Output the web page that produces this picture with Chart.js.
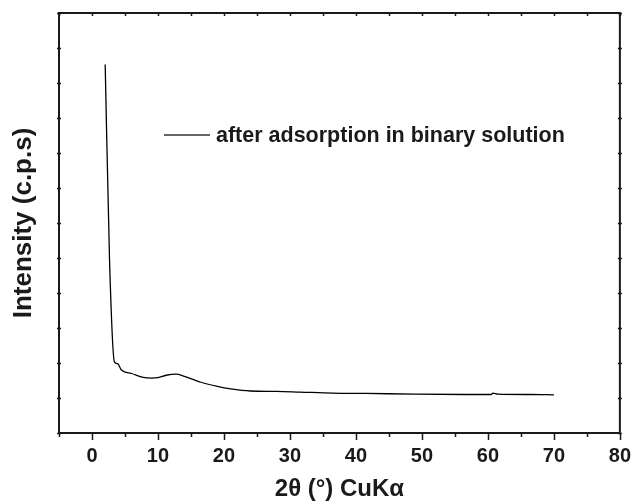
<!DOCTYPE html>
<html lang="en">
<head>
    <meta charset="UTF-8">
    <title>XRD pattern</title>
    <script src="https://cdn.jsdelivr.net/npm/chart.js"></script>
    <style>
        body {
            margin: 0;
            background: #ffffff;
        }
    </style>
</head>
<body>
    <canvas id="xrd" width="642" height="503"></canvas>

    <script>
        // 2 theta (degrees) and intensity (arbitrary units)
        const twoTheta = [2, 2.66, 3.4, 3.86, 4.5, 6, 7.75, 9, 10, 11.25, 12.75, 14, 15.2, 16.5, 19, 21, 24, 28, 31.5, 36.5, 41.5, 49, 56.5, 60.5, 60.75, 61.5, 66.5, 70];
        const intensity = [10.53, 4.93, 2.03, 1.98, 1.79, 1.70, 1.59, 1.57, 1.58, 1.65, 1.68, 1.62, 1.54, 1.45, 1.33, 1.26, 1.20, 1.19, 1.17, 1.14, 1.13, 1.11, 1.10, 1.10, 1.14, 1.11, 1.10, 1.09];
        const seriesName = 'after adsorption in binary solution';
        const xTitle = '2\u03B8 (\u00B0) CuK\u03B1';
        const yTitle = 'Intensity (c.p.s)';

        const ink = '#1a1a1a';
        const family = '"Liberation Sans", Arial, sans-serif';

        // frame box + tick marks on all four sides
        const frame = {
            id: 'frame',
            afterDatasetsDraw(chart) {
                const ctx = chart.ctx;
                const { left, right, top, bottom } = chart.chartArea;
                const x = chart.scales.x, y = chart.scales.y;
                ctx.save();
                ctx.strokeStyle = ink;
                ctx.lineWidth = 2;
                ctx.strokeRect(left, top, right - left, bottom - top);
                ctx.lineWidth = 1.5;
                ctx.beginPath();
                x.ticks.forEach(t => {
                    const px = Math.round(x.getPixelForValue(t.value)) + 0.5;
                    const len = t.value % 10 === 0 ? 7 : 4;
                    ctx.moveTo(px, bottom);
                    ctx.lineTo(px, bottom + len);
                    ctx.moveTo(px, top);
                    ctx.lineTo(px, top + 3);
                });
                y.ticks.forEach(t => {
                    const py = Math.round(y.getPixelForValue(t.value)) + 0.5;
                    ctx.moveTo(left - 2, py);
                    ctx.lineTo(left + 2, py);
                    ctx.moveTo(right - 2, py);
                    ctx.lineTo(right + 2, py);
                });
                ctx.stroke();
                ctx.restore();
            }
        };

        // legend entry drawn inside the plot
        const legendInside = {
            id: 'legendInside',
            afterDraw(chart) {
                const ctx = chart.ctx;
                const ds = chart.data.datasets[0];
                ctx.save();
                ctx.strokeStyle = '#333';
                ctx.lineWidth = 1.3;
                ctx.beginPath();
                ctx.moveTo(164, 135);
                ctx.lineTo(210, 135);
                ctx.stroke();
                ctx.fillStyle = ink;
                ctx.font = 'bold 21.5px ' + family;
                ctx.textBaseline = 'middle';
                ctx.fillText(ds.label, 216, 136);
                ctx.restore();
            }
        };

        new Chart(document.getElementById('xrd'), {
            type: 'line',
            data: {
                datasets: [{
                    label: seriesName,
                    data: twoTheta.map((v, i) => ({ x: v, y: intensity[i] })),
                    borderColor: '#000',
                    borderWidth: 1.3,
                    pointRadius: 0,
                    cubicInterpolationMode: 'monotone',
                    fill: false
                }]
            },
            options: {
                responsive: false,
                animation: false,
                layout: {
                    padding: { top: 13, right: 15, left: 0, bottom: 0 }
                },
                plugins: {
                    legend: { display: false },
                    tooltip: { enabled: false }
                },
                scales: {
                    x: {
                        type: 'linear',
                        min: -5,
                        max: 80,
                        grid: { display: false, drawTicks: false },
                        border: { display: false },
                        ticks: {
                            stepSize: 5,
                            autoSkip: false,
                            maxRotation: 0,
                            padding: 11,
                            color: ink,
                            font: { family: family, size: 20, weight: 'bold' },
                            callback: v => (v % 10 === 0 ? v : '')
                        },
                        title: {
                            display: true,
                            text: xTitle,
                            color: ink,
                            font: { family: family, size: 24, weight: 'bold', lineHeight: 1.1 },
                            padding: { top: 0, bottom: 0 }
                        },
                        afterFit(scale) { scale.height = 70; }
                    },
                    y: {
                        type: 'linear',
                        min: 0,
                        max: 12,
                        grid: { display: false, drawTicks: false },
                        border: { display: false },
                        ticks: { display: false, stepSize: 1 },
                        title: {
                            display: true,
                            text: yTitle,
                            color: ink,
                            font: { family: family, size: 26, weight: 'bold' },
                            padding: { top: 8, bottom: 0 }
                        },
                        afterFit(scale) { scale.width = 59; }
                    }
                }
            },
            plugins: [frame, legendInside]
        });
    </script>
</body>
</html>
